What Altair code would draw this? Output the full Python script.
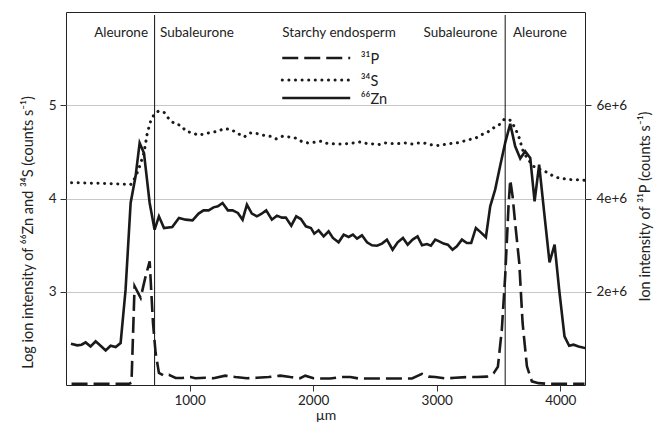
import altair as alt
import pandas as pd

# ---- data (x in µm) ----
zn_x = [40, 91, 126, 159, 199, 240, 280, 321, 361, 402, 442, 482, 523, 563, 596, 631, 677, 717,
        752, 793, 860, 914, 968, 1024, 1073, 1113, 1154, 1194, 1229, 1267, 1310, 1348, 1391,
        1429, 1464, 1504, 1545, 1580, 1620, 1666, 1707, 1747, 1779, 1823, 1863, 1901, 1941,
        1982, 2009, 2044, 2085, 2125, 2160, 2206, 2247, 2287, 2322, 2355, 2395, 2436, 2476,
        2516, 2557, 2597, 2643, 2684, 2727, 2765, 2805, 2845, 2881, 2921, 2953, 2988, 3020,
        3055, 3090, 3128, 3163, 3204, 3244, 3279, 3317, 3357, 3398, 3433, 3473, 3514, 3554,
        3595, 3635, 3676, 3716, 3757, 3792, 3829, 3870, 3913, 3954, 3991, 4034, 4072, 4107,
        4148, 4202]
zn_v = [2.443, 2.425, 2.432, 2.457, 2.414, 2.468, 2.421, 2.371, 2.421, 2.407, 2.45, 3.02, 3.952,
        4.238, 4.596, 4.488, 3.952, 3.666, 3.809, 3.684, 3.695, 3.791, 3.773, 3.766, 3.838,
        3.873, 3.873, 3.905, 3.916, 3.952, 3.873, 3.873, 3.845, 3.773, 3.934, 3.838, 3.809,
        3.834, 3.873, 3.773, 3.816, 3.795, 3.795, 3.709, 3.809, 3.780, 3.702, 3.684, 3.623,
        3.659, 3.594, 3.648, 3.577, 3.530, 3.612, 3.587, 3.612, 3.569, 3.605, 3.530, 3.498,
        3.494, 3.516, 3.559, 3.451, 3.530, 3.577, 3.505, 3.559, 3.594, 3.498, 3.512, 3.494,
        3.559, 3.541, 3.516, 3.505, 3.451, 3.487, 3.559, 3.523, 3.523, 3.684, 3.637, 3.584,
        3.916, 4.095, 4.353, 4.596, 4.800, 4.560, 4.428, 4.506, 4.435, 3.970, 4.363, 3.845,
        3.315, 3.505, 3.022, 2.521, 2.421, 2.432, 2.414, 2.396]

s_x = [45, 150, 250, 350, 450, 523, 563, 596, 631, 658, 685, 712, 747, 793, 833, 879, 927, 973,
       1024, 1073, 1127, 1181, 1229, 1281, 1337, 1383, 1442, 1491, 1545, 1599, 1653, 1701, 1753,
       1806, 1855, 1904, 1957, 2009, 2063, 2117, 2179, 2233, 2279, 2330, 2382, 2436, 2481, 2530,
       2584, 2638, 2692, 2746, 2800, 2845, 2894, 2948, 2996, 3055, 3109, 3163, 3217, 3266, 3317,
       3366, 3414, 3460, 3506, 3549, 3595, 3635, 3668, 3695, 3730, 3784, 3838, 3892, 3937, 3986,
       4040, 4088, 4142, 4196]
s_v = [4.170, 4.167, 4.163, 4.160, 4.155, 4.149, 4.231, 4.345, 4.488, 4.703, 4.828, 4.900, 4.936,
       4.925, 4.853, 4.800, 4.785, 4.721, 4.703, 4.678, 4.696, 4.710, 4.721, 4.750, 4.739, 4.703,
       4.660, 4.703, 4.696, 4.678, 4.667, 4.639, 4.667, 4.660, 4.649, 4.614, 4.596, 4.603, 4.614,
       4.589, 4.585, 4.585, 4.589, 4.596, 4.607, 4.589, 4.585, 4.578, 4.596, 4.589, 4.589, 4.596,
       4.585, 4.596, 4.596, 4.578, 4.567, 4.578, 4.589, 4.596, 4.614, 4.632, 4.649, 4.685, 4.714,
       4.757, 4.792, 4.853, 4.839, 4.757, 4.649, 4.524, 4.435, 4.345, 4.310, 4.281, 4.245, 4.220,
       4.210, 4.202, 4.202, 4.195]

p_x = [45, 510, 530, 555, 604, 644, 677, 704, 725, 752, 793, 833, 887, 941, 1008, 1046, 1127,
       1194, 1289, 1370, 1464, 1545, 1639, 1734, 1815, 1896, 1936, 2003, 2058, 2139, 2233, 2301,
       2368, 2449, 2543, 2624, 2719, 2800, 2881, 2935, 2988, 3069, 3150, 3244, 3325, 3406, 3460,
       3495, 3527, 3554, 3581, 3595, 3614, 3635, 3668, 3695, 3730, 3770, 3824, 3905, 3986, 4094,
       4196]
p_v = [0.025e6, 0.025e6, 0.05e6, 2.12e6, 1.87e6, 2.33e6, 2.65e6, 1.33e6, 0.69e6, 0.26e6, 0.20e6,
       0.22e6, 0.15e6, 0.15e6, 0.17e6, 0.145e6, 0.155e6, 0.145e6, 0.20e6, 0.17e6, 0.145e6,
       0.155e6, 0.17e6, 0.20e6, 0.17e6, 0.145e6, 0.20e6, 0.145e6, 0.14e6, 0.14e6, 0.17e6, 0.17e6,
       0.14e6, 0.14e6, 0.14e6, 0.14e6, 0.14e6, 0.14e6, 0.24e6, 0.18e6, 0.17e6, 0.14e6, 0.155e6,
       0.17e6, 0.17e6, 0.18e6, 0.25e6, 0.39e6, 1.19e6, 2.33e6, 3.83e6, 4.40e6, 4.05e6, 3.47e6,
       2.62e6, 1.33e6, 0.40e6, 0.078e6, 0.04e6, 0.025e6, 0.025e6, 0.025e6, 0.025e6]

boundaries = [717, 3554]
region_labels = ["Aleurone", "Subaleurone", "Starchy endosperm", "Subaleurone", "Aleurone"]
region_label_x = [664, 761, 2210, 3490, 3617]
region_align = ["right", "left", "center", "right", "left"]

legend_labels = ["³¹P", "³⁴S", "⁶⁶Zn"]

# ---- layout / style constants ----
FONT = "Lato"
W, H = 519, 373
LEG_X1, LEG_X2, LEG_TX = 1750, 2300, 2385
LEG_Y = [46, 68, 86]
HEAD_Y = 21

zn_df = pd.DataFrame({"x": zn_x, "v": zn_v})
s_df = pd.DataFrame({"x": s_x, "v": s_v})
p_df = pd.DataFrame({"x": p_x, "p": p_v})
b_df = pd.DataFrame({"x": boundaries})
h_df = pd.DataFrame({"x": region_label_x, "label": region_labels, "al": region_align})

xscale = alt.Scale(domain=[0, 4200], nice=False, zero=False)
xaxis = alt.Axis(values=[1000, 2000, 3000, 4000], format="d", title="µm", grid=False,
                 domain=False, tickSize=6, tickColor="#333", labelPadding=2, titlePadding=2)
X = alt.X("x:Q", scale=xscale, axis=xaxis)

left_scale = alt.Scale(domain=[2, 6], nice=False, zero=False)
left_axis = alt.Axis(values=[3, 4, 5], grid=True, gridColor="#c8c8c8", domain=False,
                     tickSize=6, tickColor="#333", labelPadding=4,
                     titleAngle=270, titleX=-38, titleY=220, titleAlign="center",
                     titleBaseline="middle", titleFontSize=14.5,
                     title="Log ion intensity of ⁶⁶Zn and ³⁴S (counts s⁻¹)")
YL = alt.Y("v:Q", scale=left_scale, axis=left_axis)

right_scale = alt.Scale(domain=[0, 8e6], nice=False, zero=False)
right_axis = alt.Axis(values=[2e6, 4e6, 6e6], format=".0e", orient="right", grid=False,
                      domain=False, tickSize=6, tickColor="#333", labelPadding=5,
                      titleAngle=270, titleX=60, titleY=194, titleAlign="center",
                      titleBaseline="middle", titleFontSize=14.5,
                      title="Ion intensity of ³¹P (counts s⁻¹)")
YR = alt.Y("p:Q", scale=right_scale, axis=right_axis)

zn = alt.Chart(zn_df).mark_line(color="#1a1a1a", strokeWidth=2.6, clip=True).encode(x=X, y=YL)
s = alt.Chart(s_df).mark_line(color="#1a1a1a", strokeWidth=3, strokeCap="round",
                              strokeDash=[0.1, 6.5], clip=True).encode(x=X, y=YL)
p = alt.Chart(p_df).mark_line(color="#1a1a1a", strokeWidth=2.6, strokeDash=[16, 6],
                              clip=True).encode(x=X, y=YR)

vrules = alt.Chart(b_df).mark_rule(color="#111", strokeWidth=1).encode(
    x=X, y=alt.value(3), y2=alt.value(H))

heads = []
for al in ["left", "right", "center"]:
    heads.append(
        alt.Chart(h_df[h_df["al"] == al]).mark_text(
            align=al, baseline="middle", font=FONT, fontSize=13.5, color="#222"
        ).encode(x=X, y=alt.value(HEAD_Y), text="label:N")
    )

leg_df = pd.DataFrame({"x": [LEG_X1], "x2": [LEG_X2]})
leg_p = alt.Chart(leg_df).mark_rule(color="#1a1a1a", strokeWidth=2.6, strokeDash=[16, 6]).encode(
    x=X, x2="x2:Q", y=alt.value(LEG_Y[0]))
leg_s = alt.Chart(leg_df).mark_rule(color="#1a1a1a", strokeWidth=3, strokeCap="round",
                                    strokeDash=[0.1, 6.5]).encode(
    x=X, x2="x2:Q", y=alt.value(LEG_Y[1]))
leg_z = alt.Chart(leg_df).mark_rule(color="#1a1a1a", strokeWidth=2.6).encode(
    x=X, x2="x2:Q", y=alt.value(LEG_Y[2]))
leg_txt = []
for lab, yy in zip(legend_labels, LEG_Y):
    leg_txt.append(
        alt.Chart(pd.DataFrame({"x": [LEG_TX], "t": [lab]})).mark_text(
            align="left", baseline="middle", font=FONT, fontSize=14.5, color="#222", dy=2
        ).encode(x=X, y=alt.value(yy), text="t:N")
    )

left = alt.layer(zn, s, vrules, *heads, leg_p, leg_s, leg_z, *leg_txt)
chart = alt.layer(left, p).resolve_scale(y="independent").properties(
    width=W, height=H,
    padding={"left": 58, "top": 4, "right": 69, "bottom": 40},
    autosize=alt.AutoSizeParams(type="none"),
).configure_view(stroke="#222", strokeWidth=1).configure_axis(
    labelFont=FONT, titleFont=FONT, labelFontSize=13.5, titleFontSize=14,
    titleFontWeight="normal", labelColor="#222", titleColor="#222"
)

chart.save("out.html", embed_options={"renderer": "svg", "actions": False})
